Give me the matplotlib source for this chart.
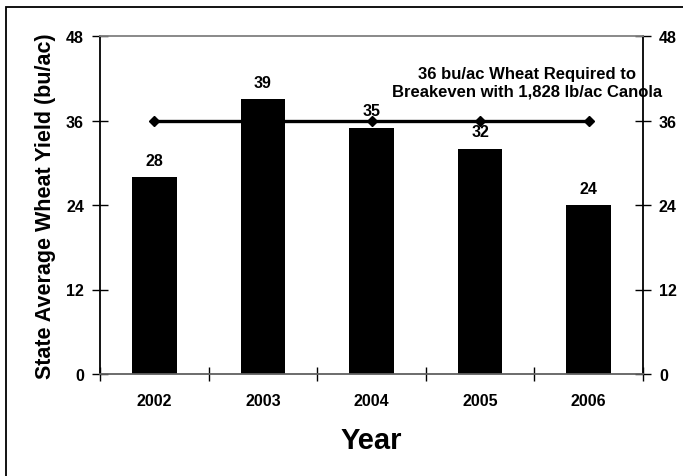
import matplotlib.pyplot as plt
from matplotlib.patches import Rectangle

years = ["2002", "2003", "2004", "2005", "2006"]
yields = [28, 39, 35, 32, 24]
breakeven = [36, 36, 36, 36, 36]
breakeven_note = "36 bu/ac Wheat Required to\nBreakeven with 1,828 lb/ac Canola"
yticks = [0, 12, 24, 36, 48]

plt.rcParams["font.family"] = ["Liberation Sans", "DejaVu Sans"]
plt.rcParams["font.weight"] = "bold"

W, H = 683, 477
fig = plt.figure(figsize=(W / 100, H / 100), dpi=100)
ax = fig.add_axes([100 / W, (H - 375) / H, 543 / W, 338 / H])

# outer chart frame (runs off the right and bottom edges)
fig.patches.append(Rectangle((6 / W, -0.1), 1.2, 1.1 - 8 / H, transform=fig.transFigure,
                             fill=False, edgecolor="black", linewidth=1.3))

x = range(len(years))
ax.bar(x, yields, width=0.41, color="black", zorder=2)
for i, v in enumerate(yields):
    ax.annotate(str(v), (i, v), xytext=(0, 12), textcoords="offset points",
                ha="center", va="center", fontsize=11.5, fontweight="bold")

ax.plot(x, breakeven, color="black", linewidth=2.4, marker="D", markersize=5.5, zorder=3)
ax.text(3.43, 41.4, breakeven_note, ha="center", va="center", fontsize=12,
        fontweight="bold", linespacing=1.2)

ax.set_xlim(-0.5, 4.5)
ax.set_ylim(0, 48)
ax.set_yticks(yticks)
ax.set_yticklabels([str(t) for t in yticks], fontsize=11.5, fontweight="bold")
ax.set_xticks([i + 0.5 for i in range(-1, 5)], minor=False)
ax.set_xticklabels([])
ax.set_xticks(list(x), minor=True)
ax.set_xticklabels(years, minor=True, fontsize=11.5, fontweight="bold")
ax.tick_params(axis="x", which="major", direction="inout", length=10, width=1)
ax.tick_params(axis="x", which="minor", length=0, pad=14)
ax.tick_params(axis="y", direction="inout", length=11, width=1, right=True,
               labelright=True, pad=6)

for side in ("left", "right"):
    ax.spines[side].set_color("black")
ax.spines["top"].set_color("#808080")
ax.spines["bottom"].set_color("#606060")
for s in ax.spines.values():
    s.set_linewidth(1.3)

ax.set_ylabel("State Average Wheat Yield (bu/ac)", fontsize=15.5, fontweight="bold", labelpad=7.5)
ax.set_xlabel("Year", fontsize=21, fontweight="bold", labelpad=13)

fig.savefig("out.png", dpi=100)
